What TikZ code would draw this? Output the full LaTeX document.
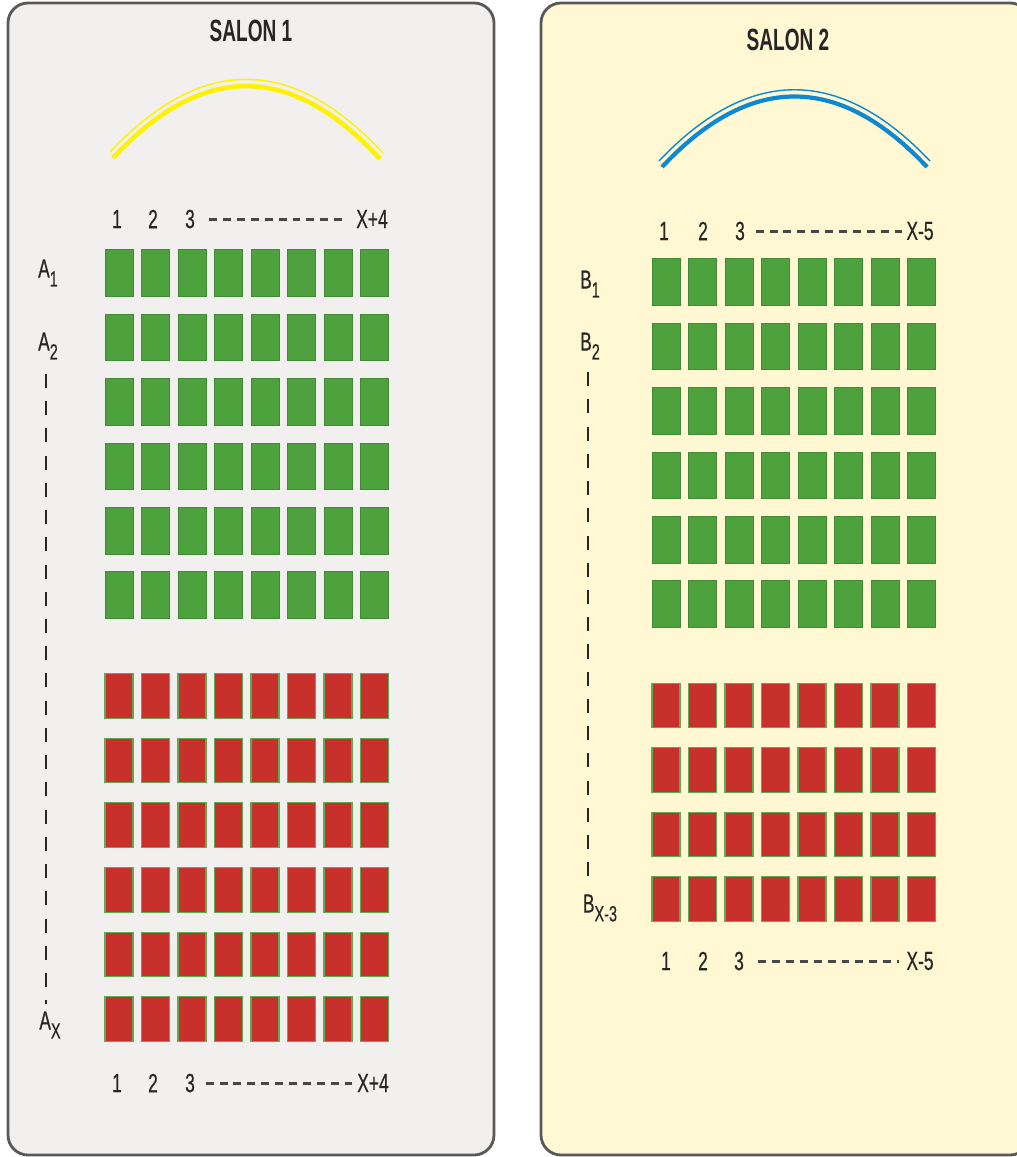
\documentclass[tikz,border=0pt]{standalone}
\usepackage{fontspec}
\setmainfont{Liberation Sans}
\newfontfamily\narrowfont{Liberation Sans}[FakeStretch=0.66, FakeBold=0.4]
\newfontfamily\narrowbold{Liberation Sans Bold}[FakeStretch=0.62]
\usetikzlibrary{positioning}
\definecolor{seatgreen}{HTML}{4EA23E}
\definecolor{seatred}{HTML}{C8312B}
\definecolor{hallgray}{HTML}{F1F0EF}
\definecolor{hallyellow}{HTML}{FFF8D2}
\definecolor{inkgray}{HTML}{262626}
\newcommand{\sub}[1]{\raisebox{-5pt}{\fontsize{12.5}{14}\selectfont #1}}
\tikzstyle{hall} = [draw=black!65, line width=1.6pt, rounded corners=0.4cm]
\tikzstyle{title} = [text=inkgray, font=\narrowbold\fontsize{17.5}{20}\selectfont]
\tikzstyle{num} = [text=inkgray, font=\narrowfont\fontsize{15}{17}\selectfont, inner sep=1pt]
\tikzstyle{rowlabel} = [text=inkgray, font=\narrowfont\fontsize{15}{17}\selectfont, inner sep=1pt]
\tikzstyle{greenseat} = [rectangle, fill=seatgreen, draw=seatgreen!85!black, line width=0.4pt, minimum width=0.56cm, minimum height=0.93cm, inner sep=0pt]
\tikzstyle{redseat} = [rectangle, fill=seatred, draw=seatgreen!90!white, line width=0.6pt, minimum width=0.56cm, minimum height=0.89cm, inner sep=0pt]
\tikzstyle{dots} = [inkgray!85, line width=1.7pt, dash pattern=on 4.5pt off 3.4pt]
\tikzstyle{vdots} = [inkgray, line width=1.3pt, dash pattern=on 8pt off 7.5pt]

\begin{document}
\begin{tikzpicture}[x=0.02cm, y=-0.02cm]
        \useasboundingbox (0,0) rectangle (1017,1157);
        % the two halls
        \draw [hall, fill=hallgray] (8,3) rectangle (494,1155);
        \draw [hall, fill=hallyellow] (541,3) rectangle (1030,1155);
        \node (salon1) [title] at (251,31) {SALON 1};
        \node (salon2) [title] at (788,40) {SALON 2};

        % screens
        \draw [yellow, line width=2.6pt] (113,158) .. controls (202,62) and (291,62) .. (380,159);
        \draw [yellow, line width=0.8pt] (110,152) .. controls (201,55) and (292,55) .. (383,153);
        \draw [cyan!70!blue, line width=2.4pt] (662,167) .. controls (750,73) and (839,73) .. (927,167);
        \draw [cyan!70!blue, line width=0.8pt] (659,161) .. controls (749,66) and (840,66) .. (930,161);

        % salon 1 seats
        \foreach \r in {0,...,5}
            \foreach \c in {0,...,7}
                \node (a-g-\r-\c) [greenseat] at (119+36.5*\c, 273+64.4*\r) {};
        \foreach \r in {0,...,5}
            \foreach \c in {0,...,7}
                \node (a-r-\r-\c) [redseat] at (119+36.5*\c, 696+64.6*\r) {};

        % salon 2 seats
        \foreach \r in {0,...,5}
            \foreach \c in {0,...,7}
                \node (b-g-\r-\c) [greenseat] at (666+36.5*\c, 282+64.4*\r) {};
        \foreach \r in {0,...,3}
            \foreach \c in {0,...,7}
                \node (b-r-\r-\c) [redseat] at (666+36.5*\c, 705.5+64.5*\r) {};

        % salon 1 numbers
        \node (atop1) [num] at (117,219) {1};
        \node (atop2) [num] at (153,219) {2};
        \node (atop3) [num] at (190,219) {3};
        \node (atopx) [num] at (372,219) {X+4};
        \draw [dots] ([xshift=7pt]atop3.east) -- ([xshift=-4pt]atopx.west);
        \node (abot1) [num] at (117,1083) {1};
        \node (abot2) [num] at (153,1083) {2};
        \node (abot3) [num] at (190,1083) {3};
        \node (abotx) [num] at (373,1083) {X+4};
        \draw [dots] ([xshift=5pt]abot3.east) -- ([xshift=-0.5pt]abotx.west);
        \node (a1) [rowlabel] at (48,273) {A\sub{1}};
        \node (a2) [rowlabel] at (48,346) {A\sub{2}};
        \node (ax) [rowlabel] at (50,1025) {A\sub{X}};
        \coordinate (a2end) at ([xshift=-1pt, yshift=-7pt]a2.south);
        \draw [vdots] (a2end) -- ([yshift=3pt]a2end |- ax.north);

        % salon 2 numbers
        \node (btop1) [num] at (664,231) {1};
        \node (btop2) [num] at (703,231) {2};
        \node (btop3) [num] at (740,231) {3};
        \node (btopx) [num] at (920,231) {X-5};
        \draw [dots] ([xshift=5pt]btop3.east) -- ([xshift=-0.5pt]btopx.west);
        \node (bbot1) [num] at (666,961) {1};
        \node (bbot2) [num] at (703,961) {2};
        \node (bbot3) [num] at (739,961) {3};
        \node (bbotx) [num] at (920,961) {X-5};
        \draw [dots] ([xshift=7pt]bbot3.east) -- ([xshift=-3pt]bbotx.west);
        \node (b1) [rowlabel] at (590,284) {B\sub{1}};
        \node (b2) [rowlabel] at (590,346) {B\sub{2}};
        \node (bx) [rowlabel] at (600,908) {B\sub{X-3}};
        \coordinate (b2end) at ([xshift=-1pt, yshift=-6pt]b2.south);
        \draw [vdots] (b2end) -- ([yshift=2pt]b2end |- bx.north);
\end{tikzpicture}
\end{document}
